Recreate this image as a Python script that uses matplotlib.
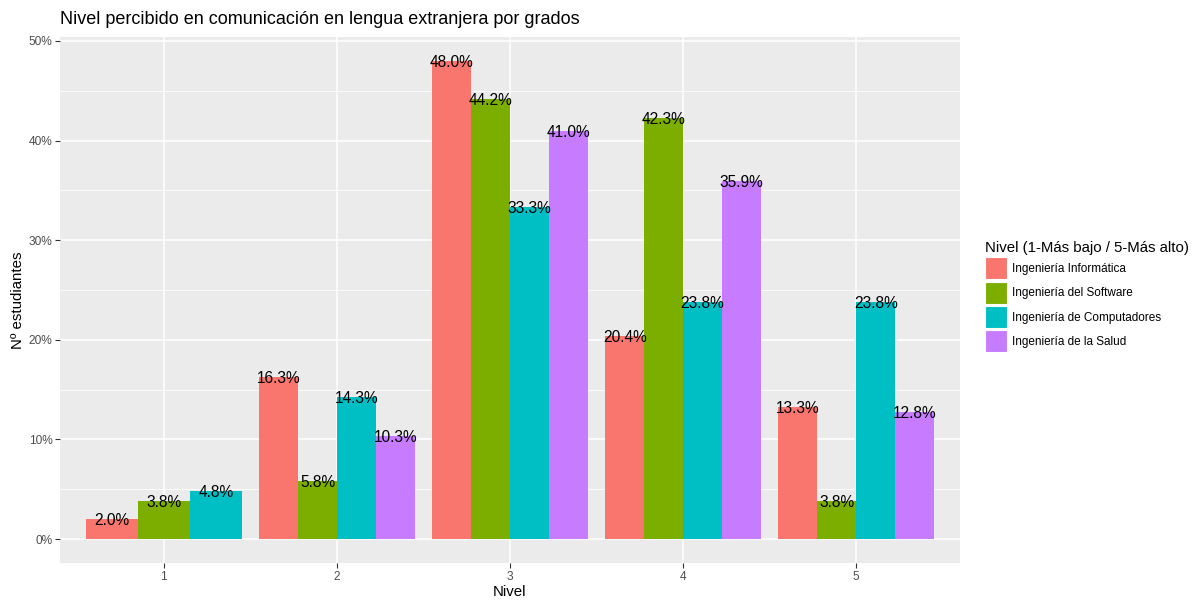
import numpy as np
import matplotlib
matplotlib.use('Agg')
import matplotlib.pyplot as plt
from matplotlib.patches import Patch
from matplotlib.ticker import MultipleLocator, FuncFormatter

plt.rcParams['font.family'] = ['Liberation Sans', 'DejaVu Sans']

#---------------------- DATA
niveles = ['1', '2', '3', '4', '5']
grados  = ['Ingeniería Informática', 'Ingeniería del Software',
           'Ingeniería de Computadores', 'Ingeniería de la Salud']
informatica  = [2.0, 16.3, 48.0, 20.4, 13.3]
software     = [3.8, 5.8, 44.2, 42.3, 3.8]
computadores = [4.8, 14.3, 33.3, 23.8, 23.8]
salud        = [None, 10.3, 41.0, 35.9, 12.8]
series = [informatica, software, computadores, salud]
colores = ['#F8766D', '#7CAE00', '#00BFC4', '#C77CFF']

titulo = 'Nivel percibido en comunicación en lengua extranjera por grados'
leyenda_titulo = 'Nivel (1-Más bajo / 5-Más alto)'

#------------------------PLOTTING
fig = plt.figure(figsize=(11.99, 6.0), dpi=100)
ax = fig.add_axes([60/1199, 37/600, 900/1199, 526/600])
ax.set_facecolor('#EBEBEB')

# ggplot-like dodge: groups present share 0.9 width
for k, niv in enumerate(niveles):
    present = [j for j in range(len(series)) if series[j][k] is not None]
    w = 0.9 / len(present)
    for n, j in enumerate(present):
        xc = (k + 1) - 0.45 + (n + 0.5) * w
        val = series[j][k]
        ax.bar(xc, val, width=w, color=colores[j], linewidth=0, zorder=3)
        ax.text(xc, val, '%.1f%%' % val, ha='center', va='center_baseline',
                fontsize=11.2, color='black', zorder=4)

ax.set_xlim(0.4, 5.6)
ax.set_ylim(-2.4, 50.4)
ax.set_xticks(range(1, 6))
ax.set_xticklabels(niveles)
ax.yaxis.set_major_locator(MultipleLocator(10))
ax.yaxis.set_minor_locator(MultipleLocator(5))
ax.yaxis.set_major_formatter(FuncFormatter(lambda v, p: '%d%%' % v))
ax.xaxis.set_minor_locator(matplotlib.ticker.NullLocator())

ax.grid(which='major', color='white', linewidth=1.1, zorder=0)
ax.grid(which='minor', axis='y', color='white', linewidth=0.55, zorder=0)
ax.set_axisbelow(True)
for s in ax.spines.values():
    s.set_visible(False)
ax.tick_params(which='major', length=3.4, width=0.8, color='#333333',
               labelsize=8.6, labelcolor='#4D4D4D', pad=2)
ax.tick_params(which='minor', length=0)

ax.set_xlabel('Nivel', fontsize=10.8, labelpad=2)
ax.set_ylabel('Nº estudiantes', fontsize=10.8, labelpad=3)
fig.text(60/1199, 1 - 19/600, titulo, fontsize=13, ha='left', va='center')

handles = [Patch(facecolor=c, edgecolor='white', linewidth=0.8) for c in colores]
leg = ax.legend(handles, grados, title=leyenda_titulo, loc='upper left',
                bbox_to_anchor=(985/1199, 1 - 241/600), bbox_transform=fig.transFigure,
                frameon=False, fontsize=8.5, title_fontsize=10.8,
                handlelength=1.86, handleheight=2.49, labelspacing=0.2,
                handletextpad=0.4, borderpad=0, borderaxespad=0, alignment='left')

plt.savefig('out.png', dpi=100)
